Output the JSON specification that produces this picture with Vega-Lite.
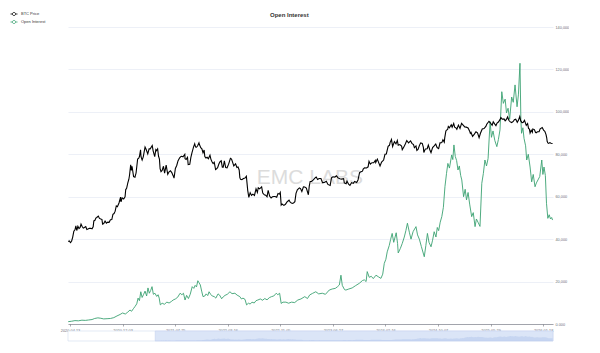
{
  "$schema": "https://vega.github.io/schema/vega-lite/v6.json",
  "autosize": {"type": "pad"},
  "padding": {"left": 10, "top": 10, "right": 0, "bottom": 0},
  "background": "#ffffff",
  "title": {"text": "Open Interest", "anchor": "middle", "fontSize": 6, "fontWeight": "bold", "color": "#333333", "offset": -8, "font": "Liberation Sans"},
  "resolve": {"scale": {"x": "independent"}},
  "spacing": 7,
  "bounds": "flush",
  "datasets": {
    "price": [
      {"d":"2020-04-05","p":6800},{"d":"2020-04-10","p":6900},{"d":"2020-04-15","p":6650},{"d":"2020-04-20","p":6850},{"d":"2020-04-25","p":7550},{"d":"2020-04-30","p":8650},{"d":"2020-05-05","p":8950},{"d":"2020-05-09","p":9800},{"d":"2020-05-13","p":8800},{"d":"2020-05-18","p":9700},{"d":"2020-05-23","p":9200},{"d":"2020-05-28","p":9450},{"d":"2020-06-01","p":10200},{"d":"2020-06-06","p":9650},{"d":"2020-06-11","p":9300},{"d":"2020-06-16","p":9450},{"d":"2020-06-22","p":9650},{"d":"2020-06-27","p":9000},{"d":"2020-07-02","p":9100},{"d":"2020-07-08","p":9250},{"d":"2020-07-14","p":9250},{"d":"2020-07-20","p":9150},{"d":"2020-07-25","p":9600},{"d":"2020-07-28","p":11000},{"d":"2020-08-02","p":11150},{"d":"2020-08-06","p":11750},{"d":"2020-08-10","p":11900},{"d":"2020-08-17","p":12300},{"d":"2020-08-22","p":11650},{"d":"2020-08-28","p":11500},{"d":"2020-09-02","p":11400},{"d":"2020-09-05","p":10200},{"d":"2020-09-10","p":10350},{"d":"2020-09-16","p":10950},{"d":"2020-09-22","p":10450},{"d":"2020-09-28","p":10700},{"d":"2020-10-04","p":10650},{"d":"2020-10-10","p":11300},{"d":"2020-10-16","p":11350},{"d":"2020-10-21","p":12800},{"d":"2020-10-26","p":13050},{"d":"2020-10-31","p":13800},{"d":"2020-11-05","p":15600},{"d":"2020-11-10","p":15300},{"d":"2020-11-17","p":16700},{"d":"2020-11-24","p":19150},{"d":"2020-11-26","p":17100},{"d":"2020-12-01","p":18800},{"d":"2020-12-08","p":18300},{"d":"2020-12-14","p":19250},{"d":"2020-12-17","p":22800},{"d":"2020-12-21","p":23450},{"d":"2020-12-26","p":26450},{"d":"2020-12-31","p":29000},
      {"d":"2021-01-03","p":32000},{"d":"2021-01-08","p":40600},{"d":"2021-01-11","p":35500},{"d":"2021-01-14","p":39200},{"d":"2021-01-21","p":30800},{"d":"2021-01-27","p":30400},{"d":"2021-02-01","p":33500},{"d":"2021-02-08","p":46400},{"d":"2021-02-13","p":47300},{"d":"2021-02-16","p":49200},{"d":"2021-02-21","p":57500},{"d":"2021-02-23","p":48900},{"d":"2021-02-28","p":45200},{"d":"2021-03-05","p":48800},{"d":"2021-03-13","p":61200},{"d":"2021-03-18","p":57800},{"d":"2021-03-25","p":52300},{"d":"2021-03-31","p":58800},{"d":"2021-04-05","p":58700},{"d":"2021-04-14","p":63500},{"d":"2021-04-18","p":56200},{"d":"2021-04-25","p":49100},{"d":"2021-04-30","p":57800},{"d":"2021-05-03","p":56600},{"d":"2021-05-08","p":58800},{"d":"2021-05-12","p":49500},{"d":"2021-05-16","p":46400},{"d":"2021-05-19","p":37000},{"d":"2021-05-23","p":34600},{"d":"2021-05-28","p":35600},{"d":"2021-06-03","p":39200},{"d":"2021-06-08","p":33400},{"d":"2021-06-15","p":40200},{"d":"2021-06-22","p":32500},{"d":"2021-06-28","p":34500},{"d":"2021-07-04","p":35300},{"d":"2021-07-10","p":33800},{"d":"2021-07-16","p":31500},{"d":"2021-07-20","p":29800},{"d":"2021-07-26","p":37300},{"d":"2021-08-01","p":39900},{"d":"2021-08-07","p":44600},{"d":"2021-08-14","p":47800},{"d":"2021-08-20","p":49300},{"d":"2021-08-23","p":49500},{"d":"2021-08-29","p":48800},{"d":"2021-09-06","p":51800},{"d":"2021-09-07","p":46800},{"d":"2021-09-12","p":46000},{"d":"2021-09-18","p":48300},{"d":"2021-09-21","p":40700},{"d":"2021-09-28","p":41000},{"d":"2021-10-03","p":48200},{"d":"2021-10-08","p":53900},{"d":"2021-10-15","p":61500},{"d":"2021-10-20","p":66000},{"d":"2021-10-24","p":61300},{"d":"2021-10-28","p":61000},{"d":"2021-11-02","p":63200},{"d":"2021-11-08","p":67500},{"d":"2021-11-10","p":64900},{"d":"2021-11-16","p":60300},{"d":"2021-11-21","p":58700},{"d":"2021-11-26","p":53700},{"d":"2021-12-01","p":57200},{"d":"2021-12-04","p":49200},{"d":"2021-12-09","p":47600},{"d":"2021-12-14","p":48300},{"d":"2021-12-20","p":46700},{"d":"2021-12-27","p":50700},{"d":"2021-12-31","p":46300},
      {"d":"2022-01-05","p":43500},{"d":"2022-01-10","p":41800},{"d":"2022-01-15","p":43100},{"d":"2022-01-21","p":36300},{"d":"2022-01-24","p":36700},{"d":"2022-01-30","p":37900},{"d":"2022-02-05","p":41600},{"d":"2022-02-10","p":43600},{"d":"2022-02-15","p":44500},{"d":"2022-02-20","p":38400},{"d":"2022-02-24","p":38300},{"d":"2022-03-01","p":44400},{"d":"2022-03-07","p":38000},{"d":"2022-03-13","p":37800},{"d":"2022-03-20","p":41200},{"d":"2022-03-28","p":47100},{"d":"2022-04-02","p":46300},{"d":"2022-04-08","p":42200},{"d":"2022-04-12","p":39500},{"d":"2022-04-20","p":41400},{"d":"2022-04-26","p":38100},{"d":"2022-05-01","p":38500},{"d":"2022-05-06","p":36000},{"d":"2022-05-09","p":30100},{"d":"2022-05-12","p":28900},{"d":"2022-05-18","p":28700},{"d":"2022-05-25","p":29500},{"d":"2022-06-01","p":29800},{"d":"2022-06-07","p":31100},{"d":"2022-06-13","p":22400},{"d":"2022-06-18","p":19000},{"d":"2022-06-24","p":21200},{"d":"2022-06-30","p":19900},{"d":"2022-07-06","p":20500},{"d":"2022-07-13","p":19900},{"d":"2022-07-20","p":23200},{"d":"2022-07-26","p":21300},{"d":"2022-07-30","p":23800},{"d":"2022-08-05","p":23200},{"d":"2022-08-14","p":24300},{"d":"2022-08-19","p":21000},{"d":"2022-08-26","p":20200},{"d":"2022-09-01","p":20000},{"d":"2022-09-07","p":19300},{"d":"2022-09-12","p":22400},{"d":"2022-09-19","p":19500},{"d":"2022-09-25","p":18800},{"d":"2022-10-01","p":19300},{"d":"2022-10-08","p":19400},{"d":"2022-10-13","p":19400},{"d":"2022-10-20","p":19100},{"d":"2022-10-26","p":20800},{"d":"2022-11-01","p":20500},{"d":"2022-11-05","p":21300},{"d":"2022-11-09","p":15900},{"d":"2022-11-13","p":16300},{"d":"2022-11-21","p":15800},{"d":"2022-11-28","p":16200},{"d":"2022-12-05","p":17100},{"d":"2022-12-14","p":17800},{"d":"2022-12-20","p":16900},{"d":"2022-12-28","p":16500},
      {"d":"2023-01-03","p":16700},{"d":"2023-01-09","p":17200},{"d":"2023-01-14","p":20900},{"d":"2023-01-20","p":22700},{"d":"2023-01-29","p":23700},{"d":"2023-02-03","p":23300},{"d":"2023-02-09","p":21800},{"d":"2023-02-16","p":24300},{"d":"2023-02-22","p":24200},{"d":"2023-03-01","p":23600},{"d":"2023-03-10","p":20200},{"d":"2023-03-14","p":24700},{"d":"2023-03-18","p":27500},{"d":"2023-03-24","p":27500},{"d":"2023-04-01","p":28500},{"d":"2023-04-11","p":30200},{"d":"2023-04-14","p":30500},{"d":"2023-04-20","p":28800},{"d":"2023-04-27","p":29500},{"d":"2023-05-05","p":29500},{"d":"2023-05-12","p":26800},{"d":"2023-05-20","p":26900},{"d":"2023-05-29","p":27700},{"d":"2023-06-05","p":25700},{"d":"2023-06-15","p":25100},{"d":"2023-06-21","p":30000},{"d":"2023-06-27","p":30700},{"d":"2023-07-06","p":30500},{"d":"2023-07-13","p":31400},{"d":"2023-07-20","p":29900},{"d":"2023-07-28","p":29300},{"d":"2023-08-05","p":29100},{"d":"2023-08-14","p":29400},{"d":"2023-08-17","p":26600},{"d":"2023-08-25","p":26100},{"d":"2023-08-29","p":27700},{"d":"2023-09-05","p":25800},{"d":"2023-09-11","p":25100},{"d":"2023-09-18","p":26800},{"d":"2023-09-26","p":26300},{"d":"2023-10-02","p":27500},{"d":"2023-10-11","p":26900},{"d":"2023-10-17","p":28500},{"d":"2023-10-24","p":33900},{"d":"2023-10-30","p":34500},{"d":"2023-11-06","p":35000},{"d":"2023-11-09","p":36700},{"d":"2023-11-15","p":37800},{"d":"2023-11-24","p":37700},{"d":"2023-12-01","p":38700},{"d":"2023-12-05","p":44000},{"d":"2023-12-11","p":41200},{"d":"2023-12-18","p":42600},{"d":"2023-12-26","p":42500},
      {"d":"2024-01-02","p":45000},{"d":"2024-01-04","p":42800},{"d":"2024-01-11","p":46300},{"d":"2024-01-17","p":42700},{"d":"2024-01-23","p":39500},{"d":"2024-01-30","p":43300},{"d":"2024-02-08","p":45300},{"d":"2024-02-14","p":51800},{"d":"2024-02-20","p":52200},{"d":"2024-02-28","p":62400},{"d":"2024-03-05","p":63800},{"d":"2024-03-08","p":68300},{"d":"2024-03-14","p":73100},{"d":"2024-03-19","p":62000},{"d":"2024-03-27","p":69500},{"d":"2024-04-03","p":66000},{"d":"2024-04-09","p":71500},{"d":"2024-04-13","p":63900},{"d":"2024-04-20","p":64900},{"d":"2024-04-28","p":62800},{"d":"2024-05-01","p":57700},{"d":"2024-05-08","p":61200},{"d":"2024-05-15","p":66200},{"d":"2024-05-21","p":71400},{"d":"2024-05-29","p":67600},{"d":"2024-06-07","p":70800},{"d":"2024-06-13","p":66800},{"d":"2024-06-20","p":64800},{"d":"2024-06-24","p":60300},{"d":"2024-07-01","p":62800},{"d":"2024-07-05","p":56700},{"d":"2024-07-10","p":57900},{"d":"2024-07-17","p":64100},{"d":"2024-07-22","p":67500},{"d":"2024-07-29","p":66800},{"d":"2024-08-03","p":60700},{"d":"2024-08-05","p":53900},{"d":"2024-08-12","p":58700},{"d":"2024-08-20","p":59000},{"d":"2024-08-25","p":64200},{"d":"2024-09-01","p":57300},{"d":"2024-09-06","p":53900},{"d":"2024-09-13","p":60500},{"d":"2024-09-20","p":63000},{"d":"2024-09-27","p":65800},{"d":"2024-10-03","p":60600},{"d":"2024-10-10","p":59000},{"d":"2024-10-16","p":67600},{"d":"2024-10-24","p":68000},{"d":"2024-10-29","p":72700},{"d":"2024-11-04","p":68700},{"d":"2024-11-06","p":75800},{"d":"2024-11-11","p":88700},{"d":"2024-11-13","p":90400},{"d":"2024-11-19","p":92300},{"d":"2024-11-22","p":99000},{"d":"2024-11-27","p":95900},{"d":"2024-12-05","p":103000},{"d":"2024-12-09","p":97300},{"d":"2024-12-16","p":106100},{"d":"2024-12-20","p":97300},{"d":"2024-12-26","p":95800},{"d":"2024-12-30","p":92600},
      {"d":"2025-01-06","p":102100},{"d":"2025-01-13","p":94500},{"d":"2025-01-20","p":106200},{"d":"2025-01-27","p":102000},{"d":"2025-02-03","p":97800},{"d":"2025-02-10","p":97400},{"d":"2025-02-18","p":95600},{"d":"2025-02-25","p":88700},{"d":"2025-02-28","p":84300},{"d":"2025-03-03","p":86100},{"d":"2025-03-10","p":78500},{"d":"2025-03-18","p":82700},{"d":"2025-03-25","p":87500},{"d":"2025-04-01","p":85200},{"d":"2025-04-08","p":76300},{"d":"2025-04-14","p":84500},{"d":"2025-04-22","p":93400},{"d":"2025-04-30","p":94200},{"d":"2025-05-08","p":99000},{"d":"2025-05-12","p":104100},{"d":"2025-05-22","p":111600},{"d":"2025-05-28","p":107800},{"d":"2025-06-05","p":101600},{"d":"2025-06-10","p":110200},{"d":"2025-06-17","p":104600},{"d":"2025-06-22","p":101000},{"d":"2025-06-27","p":107100},{"d":"2025-07-03","p":109600},{"d":"2025-07-10","p":116000},{"d":"2025-07-14","p":121900},{"d":"2025-07-20","p":117200},{"d":"2025-07-28","p":118000},{"d":"2025-08-02","p":113000},{"d":"2025-08-08","p":116700},{"d":"2025-08-13","p":123300},{"d":"2025-08-19","p":113500},{"d":"2025-08-25","p":110000},{"d":"2025-08-31","p":108300},{"d":"2025-09-07","p":111100},{"d":"2025-09-12","p":115900},{"d":"2025-09-18","p":117100},{"d":"2025-09-25","p":109100},{"d":"2025-09-30","p":114100},{"d":"2025-10-06","p":124700},{"d":"2025-10-10","p":113200},{"d":"2025-10-16","p":108200},{"d":"2025-10-21","p":108400},{"d":"2025-10-27","p":114100},{"d":"2025-11-04","p":101500},{"d":"2025-11-10","p":106000},{"d":"2025-11-14","p":94500},{"d":"2025-11-18","p":92900},{"d":"2025-11-21","p":85000},{"d":"2025-11-26","p":90500},{"d":"2025-12-01","p":86300},{"d":"2025-12-03","p":93400},{"d":"2025-12-10","p":92000},{"d":"2025-12-15","p":86400},{"d":"2025-12-18","p":85500},{"d":"2025-12-24","p":87500},{"d":"2025-12-31","p":87600},
      {"d":"2026-01-05","p":93500},{"d":"2026-01-14","p":96500},{"d":"2026-01-20","p":91000},{"d":"2026-01-26","p":88000},{"d":"2026-01-31","p":82000},{"d":"2026-02-03","p":76000},{"d":"2026-02-05","p":70000},{"d":"2026-02-08","p":67500},{"d":"2026-02-12","p":66800},{"d":"2026-02-17","p":68000},{"d":"2026-02-22","p":67000},{"d":"2026-03-01","p":66500}
    ],
    "oi": [
      {"d":"2020-04-05","v":1100},{"d":"2020-04-20","v":1300},{"d":"2020-05-05","v":1600},{"d":"2020-05-20","v":1500},{"d":"2020-06-05","v":1800},{"d":"2020-06-20","v":1700},{"d":"2020-07-05","v":1900},{"d":"2020-07-20","v":2100},{"d":"2020-08-01","v":2600},{"d":"2020-08-15","v":2900},{"d":"2020-08-28","v":2700},{"d":"2020-09-10","v":2400},{"d":"2020-09-25","v":2500},{"d":"2020-10-10","v":2600},{"d":"2020-10-25","v":3000},{"d":"2020-11-08","v":3800},{"d":"2020-11-22","v":4500},{"d":"2020-12-03","v":5200},{"d":"2020-12-15","v":4700},{"d":"2020-12-26","v":5600},
      {"d":"2021-01-05","v":6600},{"d":"2021-01-12","v":6000},{"d":"2021-01-20","v":7200},{"d":"2021-01-27","v":8200},{"d":"2021-02-04","v":9500},{"d":"2021-02-10","v":12200},{"d":"2021-02-16","v":11000},{"d":"2021-02-22","v":15200},{"d":"2021-02-28","v":12500},{"d":"2021-03-06","v":13800},{"d":"2021-03-13","v":15500},{"d":"2021-03-20","v":13200},{"d":"2021-03-26","v":17000},{"d":"2021-04-01","v":14500},{"d":"2021-04-07","v":15800},{"d":"2021-04-13","v":17600},{"d":"2021-04-19","v":14000},{"d":"2021-04-26","v":14500},{"d":"2021-05-04","v":13000},{"d":"2021-05-10","v":13800},{"d":"2021-05-15","v":12200},{"d":"2021-05-20","v":9000},{"d":"2021-05-28","v":9800},{"d":"2021-06-07","v":9300},{"d":"2021-06-18","v":10300},{"d":"2021-06-28","v":9900},{"d":"2021-07-08","v":10600},{"d":"2021-07-16","v":11300},{"d":"2021-07-26","v":11800},{"d":"2021-08-05","v":12600},{"d":"2021-08-16","v":14500},{"d":"2021-08-24","v":13800},{"d":"2021-08-31","v":14500},{"d":"2021-09-07","v":11300},{"d":"2021-09-14","v":13500},{"d":"2021-09-22","v":12000},{"d":"2021-09-30","v":14000},{"d":"2021-10-09","v":17600},{"d":"2021-10-16","v":16800},{"d":"2021-10-22","v":18200},{"d":"2021-10-28","v":17500},{"d":"2021-11-03","v":20400},{"d":"2021-11-08","v":19500},{"d":"2021-11-14","v":18400},{"d":"2021-11-20","v":15500},{"d":"2021-11-26","v":12900},{"d":"2021-12-04","v":13200},{"d":"2021-12-10","v":14200},{"d":"2021-12-17","v":13400},{"d":"2021-12-23","v":15200},{"d":"2021-12-30","v":14000},
      {"d":"2022-01-06","v":13200},{"d":"2022-01-15","v":12900},{"d":"2022-01-22","v":12200},{"d":"2022-02-01","v":14200},{"d":"2022-02-08","v":13600},{"d":"2022-02-17","v":11900},{"d":"2022-02-24","v":12800},{"d":"2022-03-04","v":13500},{"d":"2022-03-14","v":14000},{"d":"2022-03-26","v":15200},{"d":"2022-04-04","v":14300},{"d":"2022-04-17","v":14500},{"d":"2022-04-27","v":13600},{"d":"2022-05-09","v":12900},{"d":"2022-05-16","v":11800},{"d":"2022-05-23","v":12200},{"d":"2022-06-01","v":11600},{"d":"2022-06-08","v":9000},{"d":"2022-06-16","v":9800},{"d":"2022-06-24","v":9400},{"d":"2022-07-02","v":10300},{"d":"2022-07-12","v":9900},{"d":"2022-07-20","v":11000},{"d":"2022-07-28","v":11300},{"d":"2022-08-08","v":11800},{"d":"2022-08-18","v":11200},{"d":"2022-08-28","v":12000},{"d":"2022-09-07","v":11400},{"d":"2022-09-17","v":12400},{"d":"2022-09-27","v":12900},{"d":"2022-10-07","v":13200},{"d":"2022-10-18","v":14500},{"d":"2022-10-25","v":13800},{"d":"2022-11-02","v":14500},{"d":"2022-11-09","v":9700},{"d":"2022-11-17","v":10300},{"d":"2022-11-30","v":10300},{"d":"2022-12-12","v":9800},{"d":"2022-12-25","v":10300},
      {"d":"2023-01-08","v":10100},{"d":"2023-01-22","v":11300},{"d":"2023-02-05","v":11800},{"d":"2023-02-22","v":12900},{"d":"2023-03-06","v":12000},{"d":"2023-03-16","v":13700},{"d":"2023-03-28","v":14400},{"d":"2023-04-12","v":15200},{"d":"2023-04-25","v":14200},{"d":"2023-05-11","v":14500},{"d":"2023-05-25","v":14000},{"d":"2023-06-11","v":16000},{"d":"2023-06-24","v":16500},{"d":"2023-07-08","v":16800},{"d":"2023-07-18","v":17600},{"d":"2023-07-26","v":18400},{"d":"2023-08-02","v":23000},{"d":"2023-08-08","v":18200},{"d":"2023-08-18","v":16200},{"d":"2023-08-24","v":16000},{"d":"2023-09-06","v":16500},{"d":"2023-09-21","v":17000},{"d":"2023-10-05","v":18000},{"d":"2023-10-23","v":19200},{"d":"2023-11-06","v":20500},{"d":"2023-11-14","v":20800},{"d":"2023-11-22","v":20000},{"d":"2023-11-27","v":24700},{"d":"2023-12-06","v":22000},{"d":"2023-12-15","v":22500},{"d":"2023-12-24","v":21400},
      {"d":"2024-01-05","v":23000},{"d":"2024-01-15","v":22300},{"d":"2024-01-27","v":21500},{"d":"2024-02-04","v":23500},{"d":"2024-02-11","v":28600},{"d":"2024-02-18","v":30500},{"d":"2024-02-24","v":34000},{"d":"2024-03-04","v":37000},{"d":"2024-03-10","v":39800},{"d":"2024-03-17","v":42700},{"d":"2024-03-24","v":38500},{"d":"2024-04-04","v":43000},{"d":"2024-04-10","v":38000},{"d":"2024-04-13","v":33500},{"d":"2024-04-22","v":35500},{"d":"2024-05-01","v":38000},{"d":"2024-05-10","v":41000},{"d":"2024-05-17","v":44000},{"d":"2024-05-24","v":47500},{"d":"2024-06-02","v":43000},{"d":"2024-06-09","v":40000},{"d":"2024-06-18","v":43500},{"d":"2024-07-01","v":45900},{"d":"2024-07-08","v":42000},{"d":"2024-07-16","v":40000},{"d":"2024-07-25","v":36500},{"d":"2024-08-07","v":31700},{"d":"2024-08-14","v":37000},{"d":"2024-08-21","v":42700},{"d":"2024-08-28","v":38500},{"d":"2024-09-06","v":36400},{"d":"2024-09-13","v":39500},{"d":"2024-09-20","v":43500},{"d":"2024-09-28","v":41000},{"d":"2024-10-04","v":45500},{"d":"2024-10-10","v":44000},{"d":"2024-10-17","v":48000},{"d":"2024-10-24","v":50600},{"d":"2024-10-31","v":55000},{"d":"2024-11-07","v":64700},{"d":"2024-11-14","v":71000},{"d":"2024-11-20","v":75700},{"d":"2024-11-27","v":73500},{"d":"2024-12-07","v":79700},{"d":"2024-12-12","v":77500},{"d":"2024-12-17","v":84400},{"d":"2024-12-23","v":79000},{"d":"2024-12-29","v":77000},
      {"d":"2025-01-04","v":72600},{"d":"2025-01-10","v":74500},{"d":"2025-01-16","v":70000},{"d":"2025-01-21","v":67900},{"d":"2025-01-29","v":60000},{"d":"2025-02-05","v":63500},{"d":"2025-02-11","v":58500},{"d":"2025-02-18","v":62000},{"d":"2025-02-25","v":56500},{"d":"2025-03-06","v":50600},{"d":"2025-03-13","v":52500},{"d":"2025-03-21","v":45900},{"d":"2025-03-27","v":49500},{"d":"2025-04-03","v":48000},{"d":"2025-04-12","v":46000},{"d":"2025-04-20","v":66300},{"d":"2025-04-27","v":71000},{"d":"2025-05-04","v":77300},{"d":"2025-05-11","v":74500},{"d":"2025-05-18","v":78000},{"d":"2025-05-27","v":95400},{"d":"2025-06-02","v":88000},{"d":"2025-06-09","v":91000},{"d":"2025-06-17","v":86500},{"d":"2025-06-26","v":83600},{"d":"2025-07-03","v":87000},{"d":"2025-07-10","v":91500},{"d":"2025-07-18","v":109500},{"d":"2025-07-25","v":104000},{"d":"2025-08-02","v":106000},{"d":"2025-08-08","v":99500},{"d":"2025-08-15","v":101700},{"d":"2025-08-22","v":96500},{"d":"2025-08-31","v":107000},{"d":"2025-09-07","v":104500},{"d":"2025-09-15","v":112700},{"d":"2025-09-24","v":102400},{"d":"2025-09-30","v":108000},{"d":"2025-10-07","v":122900},{"d":"2025-10-11","v":96000},{"d":"2025-10-14","v":89900},{"d":"2025-10-20","v":92500},{"d":"2025-10-25","v":87500},{"d":"2025-11-01","v":84000},{"d":"2025-11-06","v":77300},{"d":"2025-11-13","v":80000},{"d":"2025-11-21","v":74000},{"d":"2025-11-28","v":67000},{"d":"2025-12-05","v":70500},{"d":"2025-12-13","v":64700},{"d":"2025-12-19","v":66500},{"d":"2025-12-26","v":67900},
      {"d":"2026-01-03","v":69500},{"d":"2026-01-12","v":77300},{"d":"2026-01-17","v":70500},{"d":"2026-01-22","v":74000},{"d":"2026-01-28","v":70000},{"d":"2026-02-02","v":56900},{"d":"2026-02-08","v":49800},{"d":"2026-02-14","v":51500},{"d":"2026-02-20","v":49500},{"d":"2026-02-25","v":50200},{"d":"2026-03-01","v":49000}
    ],
    "slider": [
      {"kind":"full","start":"2018-12-18","end":"2026-03-03"},
      {"kind":"sel","start":"2020-04-04","end":"2026-03-03"}
    ],
    "wm": [
      {"label":"EMC LABS","d":"2023-03-17","v":68800}
    ]
  },
  "vconcat": [
    {
      "width": 485,
      "height": 297,
      "layer": [
        {
          "data": {"name": "wm"},
          "mark": {"type": "text", "fontSize": 21, "color": "#dcdcdc", "align": "center", "baseline": "middle", "font": "Liberation Sans"},
          "encoding": {
            "x": {"field": "d", "type": "temporal"},
            "y": {"field": "v", "type": "quantitative", "axis": null, "scale": {"domain": [0, 140000]}},
            "text": {"field": "label"}
          }
        },
        {
          "data": {"name": "oi"},
          "mark": {"type": "line", "strokeWidth": 0.9},
          "encoding": {
            "x": {"field": "d", "type": "temporal",
              "scale": {"domain": [1585958400000, 1772496000000]},
              "axis": {
                "title": null, "format": "%Y-%m-%d",
                "values": [1586736000000, 1596844800000, 1606953600000, 1617062400000, 1627171200000, 1637280000000, 1647388800000, 1657497600000, 1667606400000, 1677715200000, 1687824000000, 1697932800000, 1708041600000, 1718150400000, 1728259200000, 1738368000000, 1748476800000, 1758585600000, 1768694400000],
                "grid": false, "domainColor": "#6e7079", "domainWidth": 0.6, "tickColor": "#6e7079", "tickWidth": 0.6, "tickSize": 2,
                "labelFontSize": 3.8, "labelColor": "#6e7079", "labelPadding": 2, "labelFlush": false, "labelOverlap": false
              }
            },
            "y": {"field": "v", "type": "quantitative",
              "scale": {"domain": [0, 140000], "nice": false},
              "axis": {
                "orient": "right", "title": null,
                "values": [0, 20000, 40000, 60000, 80000, 100000, 120000, 140000],
                "labelExpr": "datum.value == 0 ? '0.000' : format(datum.value, ',')",
                "grid": true, "gridColor": "#e0e6f1", "gridWidth": 0.6,
                "domain": false, "ticks": false,
                "labelFontSize": 3.8, "labelColor": "#6e7079", "labelPadding": 2
              }
            },
            "color": {"datum": "Open Interest", "type": "nominal",
              "scale": {"domain": ["BTC Price", "Open Interest"], "range": ["#000000", "#3ba272"]},
              "legend": {
                "orient": "none", "legendX": -58, "legendY": -17, "title": null,
                "symbolType": "M-1,0H-0.45M0.45,0H1M0.45,0A0.45,0.45,0,1,1,-0.45,0A0.45,0.45,0,1,1,0.45,0",
                "symbolSize": 49, "symbolStrokeWidth": 0.8, "symbolFillColor": "#ffffff",
                "labelFontSize": 4, "labelColor": "#333333", "labelOffset": 3, "rowPadding": 0
              }
            }
          }
        },
        {
          "data": {"name": "price"},
          "mark": {"type": "line", "strokeWidth": 1.1},
          "encoding": {
            "x": {"field": "d", "type": "temporal"},
            "y": {"field": "p", "type": "quantitative", "scale": {"type": "log", "domain": [1000, 1000000], "nice": false}, "axis": null},
            "color": {"datum": "BTC Price", "type": "nominal"}
          }
        }
      ],
      "resolve": {"scale": {"y": "independent"}}
    },
    {
      "width": 485,
      "height": 10,
      "layer": [
        {
          "data": {"name": "slider"},
          "transform": [{"filter": "datum.kind == 'full'"}],
          "mark": {"type": "rect", "fill": "#ffffff", "stroke": "#d2dbee", "strokeWidth": 0.6},
          "encoding": {
            "x": {"field": "start", "type": "temporal", "axis": null, "scale": {"domain": [1545091200000, 1772496000000]}},
            "x2": {"field": "end"}
          }
        },
        {
          "data": {"name": "slider"},
          "transform": [{"filter": "datum.kind == 'sel'"}],
          "mark": {"type": "rect", "fill": "#dbe5f7", "stroke": "#c0cfec", "strokeWidth": 0.5},
          "encoding": {
            "x": {"field": "start", "type": "temporal"},
            "x2": {"field": "end"}
          }
        },
        {
          "data": {"name": "price"},
          "mark": {"type": "area", "color": "#b8c9ec", "opacity": 0.6},
          "encoding": {
            "x": {"field": "d", "type": "temporal"},
            "y": {"field": "p", "type": "quantitative", "axis": null, "scale": {"domain": [0, 250000]}}
          }
        }
      ]
    }
  ],
  "config": {
    "font": "Liberation Sans",
    "view": {"stroke": null}
  }
}
